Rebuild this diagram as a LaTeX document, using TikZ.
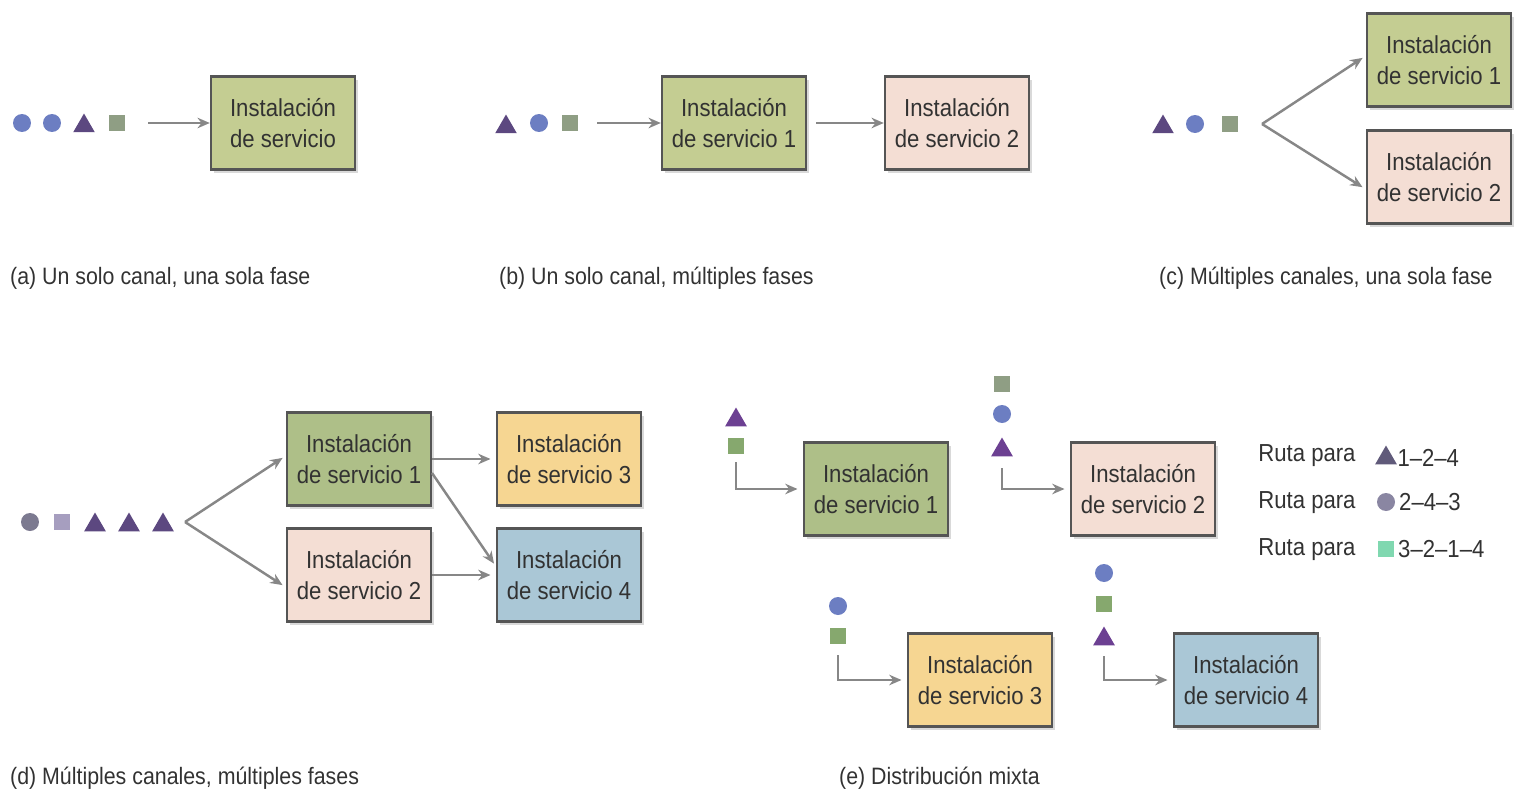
\documentclass[tikz,border=0pt]{standalone}
\usepackage{fontspec}
\setmainfont{Liberation Sans}[FakeStretch=0.9]
\usepackage{xcolor}
\usepackage{tikz}
\usetikzlibrary{arrows.meta,positioning,shapes.geometric,shadows}
\definecolor{colorGreenTop}{RGB}{196,205,146}
\definecolor{colorGreen}{RGB}{174,191,136}
\definecolor{colorPink}{RGB}{244,222,212}
\definecolor{colorYellow}{RGB}{246,214,146}
\definecolor{colorBlue}{RGB}{170,199,214}
\definecolor{colorLine}{RGB}{85,85,85}
\definecolor{colorArrow}{RGB}{135,135,135}
\definecolor{colorText}{RGB}{50,50,50}
\definecolor{colorDot}{RGB}{108,126,194}
\definecolor{colorTri}{RGB}{92,72,128}
\definecolor{colorSq}{RGB}{143,158,132}
\definecolor{colorTriE}{RGB}{108,64,146}
\definecolor{colorSqE}{RGB}{134,168,110}
\definecolor{colorDotD}{RGB}{124,122,144}
\definecolor{colorSqD}{RGB}{166,158,191}
\definecolor{colorTriL}{RGB}{96,90,122}
\definecolor{colorDotL}{RGB}{138,134,162}
\definecolor{colorSqL}{RGB}{128,216,176}

\begin{document}
\begin{tikzpicture}[x=0.02cm,y=-0.02cm,
  station/.style={draw=colorLine,line width=1.4pt,minimum width=2.88cm,minimum height=1.86cm,align=center,
    text=colorText,font=\fontsize{14}{17.5}\selectfont,
    drop shadow={shadow xshift=1.5pt,shadow yshift=-2pt,opacity=0.15,fill=black}},
  flow/.style={-{Stealth[length=7pt,width=6pt]},line width=1.4pt,colorArrow},
  tri/.style={regular polygon,regular polygon sides=3,inner sep=0pt,minimum size=0.5cm},
  dot/.style={circle,inner sep=0pt,minimum size=0.36cm},
  sq/.style={rectangle,inner sep=0pt,minimum size=0.32cm},
  caption/.style={anchor=west,text=colorText,font=\fontsize{13.5}{16}\selectfont},
  legend/.style={anchor=west,inner sep=0pt,text=colorText,font=\fontsize{14}{16}\selectfont}]
  \useasboundingbox (0,0) rectangle (1527,794);

  % (a)
  \node[dot,fill=colorDot] (a_c1) at (22,123) {};
  \node[dot,fill=colorDot] (a_c2) at (52,123) {};
  \node[tri,fill=colorTri] (a_t1) at (84,126) {};
  \node[sq,fill=colorSq] (a_s1) at (117,123) {};
  \node[station,fill=colorGreenTop] (a1) at (283,123) {Instalación\\de servicio};
  \draw[flow] (148,123) coordinate (a_in) -- (a1.west);
  \node[caption] (capa) at (4,278) {(a) Un solo canal, una sola fase};

  % (b)
  \node[tri,fill=colorTri] (b_t1) at (506,127) {};
  \node[dot,fill=colorDot] (b_c1) at (539,123) {};
  \node[sq,fill=colorSq] (b_s1) at (570,123) {};
  \node[station,fill=colorGreenTop] (b1) at (734,123) {Instalación\\de servicio 1};
  \node[station,fill=colorPink] (b2) at (957,123) {Instalación\\de servicio 2};
  \draw[flow] (597,123) coordinate (b_in) -- (b1.west);
  \draw[flow] (b1.east) ++(9,0) -- (b2.west);
  \node[caption] (capb) at (493,278) {(b) Un solo canal, múltiples fases};

  % (c)
  \node[tri,fill=colorTri] (c_t1) at (1163,127) {};
  \node[dot,fill=colorDot] (c_c1) at (1195,124) {};
  \node[sq,fill=colorSq] (c_s1) at (1230,124) {};
  \node[station,fill=colorGreenTop] (c1) at (1439,60) {Instalación\\de servicio 1};
  \node[station,fill=colorPink] (c2) at (1439,177) {Instalación\\de servicio 2};
  \coordinate (c_fork) at (1262,124);
  \draw[flow,shorten >=3pt] (c_fork) -- (1367,55);
  \draw[flow,shorten >=3pt] (c_fork) -- (1367,190);
  \node[caption] (capc) at (1153,278) {(c) Múltiples canales, una sola fase};

  % (d)
  \node[dot,fill=colorDotD] (d_c1) at (30,522) {};
  \node[sq,fill=colorSqD] (d_s1) at (62,522) {};
  \foreach \x [count=\i] in {95,129,163}
    \node[tri,fill=colorTri] (d_t\i) at (\x,525) {};
  \node[station,fill=colorGreen] (d1) at (359,459) {Instalación\\de servicio 1};
  \node[station,fill=colorPink] (d2) at (359,575) {Instalación\\de servicio 2};
  \node[station,fill=colorYellow] (d3) at (569,459) {Instalación\\de servicio 3};
  \node[station,fill=colorBlue] (d4) at (569,575) {Instalación\\de servicio 4};
  \coordinate (d_fork) at (185,522);
  \draw[flow,shorten >=3pt] (d_fork) -- (287,455);
  \draw[flow,shorten >=3pt] (d_fork) -- (287,588);
  \draw[flow,shorten >=3pt] (d1.east) -- (d3.west);
  \draw[flow,shorten >=3pt] (432,473) -- (497,568);
  \draw[flow,shorten >=3pt] (d2.east) -- (d4.west);
  \node[caption] (capd) at (4,778) {(d) Múltiples canales, múltiples fases};

  % (e)
  \node[station,fill=colorGreen] (e1) at (876,489) {Instalación\\de servicio 1};
  \node[station,fill=colorPink] (e2) at (1143,489) {Instalación\\de servicio 2};
  \node[station,fill=colorYellow] (e3) at (980,680) {Instalación\\de servicio 3};
  \node[station,fill=colorBlue] (e4) at (1246,680) {Instalación\\de servicio 4};
  \node[tri,fill=colorTriE] (e1_t) at (736,420) {};
  \node[sq,fill=colorSqE] (e1_s) at (736,446) {};
  \node[sq,fill=colorSq] (e2_s) at (1002,384) {};
  \node[dot,fill=colorDot] (e2_c) at (1002,414) {};
  \node[tri,fill=colorTriE] (e2_t) at (1002,450) {};
  \node[dot,fill=colorDot] (e3_c) at (838,606) {};
  \node[sq,fill=colorSqE] (e3_s) at (838,636) {};
  \node[dot,fill=colorDot] (e4_c) at (1104,573) {};
  \node[sq,fill=colorSqE] (e4_s) at (1104,604) {};
  \node[tri,fill=colorTriE] (e4_t) at (1104,639) {};
  \draw[flow,shorten >=3pt] (736,462) coordinate (e1_in) |- (e1.west);
  \draw[flow,shorten >=3pt] (1002,468) coordinate (e2_in) |- (e2.west);
  \draw[flow,shorten >=3pt] (838,655) coordinate (e3_in) |- (e3.west);
  \draw[flow,shorten >=3pt] (1104,656) coordinate (e4_in) |- (e4.west);
  \node[caption] (cape) at (833,778) {(e) Distribución mixta};

  % leyenda
  \node[legend] (r1) at (1258,456) {Ruta para};
  \node[legend] (r2) at (1258,503) {Ruta para};
  \node[legend] (r3) at (1258,550) {Ruta para};
  \node[tri,fill=colorTriL] (r1_t) at (1386,458) {};
  \node[dot,fill=colorDotL] (r2_c) at (1386,502) {};
  \node[sq,fill=colorSqL] (r3_s) at (1386,549) {};
  \node[legend,right=2pt of r1_t] (r1_p) {1–2–4};
  \node[legend,right=2pt of r2_c] (r2_p) {2–4–3};
  \node[legend,right=2pt of r3_s] (r3_p) {3–2–1–4};
\end{tikzpicture}
\end{document}
